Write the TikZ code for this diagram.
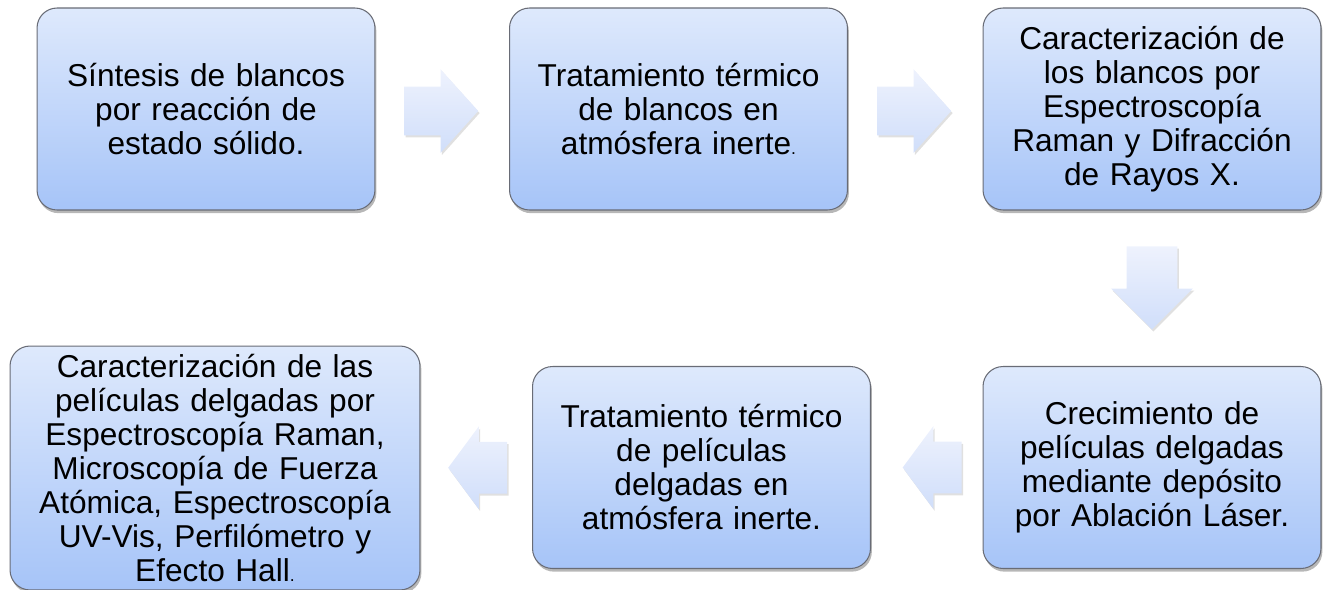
\documentclass[tikz,border=0pt]{standalone}
\usepackage{fontspec}
\setmainfont{Liberation Sans}
\usetikzlibrary{shapes.arrows,shadows,calc}

\definecolor{cajaarriba}{RGB}{222,233,252}
\definecolor{cajaabajo}{RGB}{166,196,248}
\definecolor{flechaarriba}{RGB}{238,242,253}
\definecolor{flechaabajo}{RGB}{208,222,250}
\definecolor{borde}{RGB}{105,108,118}

\tikzset{
  paso/.style={rectangle, rounded corners=0.4cm, draw=borde, line width=0.6pt,
    top color=cajaarriba, bottom color=cajaabajo,
    drop shadow={shadow xshift=0.8pt, shadow yshift=-1.8pt, opacity=0.4, fill=black!70},
    minimum width=6.76cm, minimum height=4.04cm, text width=6.6cm, align=center,
    inner sep=0pt, font=\fontsize{18}{19.35}\selectfont},
  flecha/.style={single arrow, inner xsep=0pt, draw=none,
    top color=flechaarriba, bottom color=flechaabajo,
    drop shadow={shadow xshift=0.8pt, shadow yshift=-1.2pt, opacity=0.12, fill=black}},
  flechader/.style={flecha, minimum height=1.48cm, inner ysep=0.48cm,
    single arrow head extend=0.35cm, single arrow tip angle=96},
  flechaizq/.style={flecha, shape border rotate=180, minimum height=1.18cm, inner ysep=0.51cm,
    single arrow head extend=0.31cm, single arrow tip angle=107},
  flechaaba/.style={flecha, shape border rotate=270, minimum height=1.66cm,
    inner xsep=0.5cm, inner ysep=0pt,
    single arrow head extend=0.31cm, single arrow tip angle=90}
}
\newcommand{\puntito}{{\fontsize{10}{10}\selectfont.}}

\begin{document}
\begin{tikzpicture}[x=0.02cm, y=-0.02cm]
    \useasboundingbox (0,0) rectangle (1323,589);

    % Fila de arriba
    \node[paso] (sintesis) at (206,109) {S\'intesis de blancos\\por reacci\'on de\\estado s\'olido.};
    \node[paso] (tratblancos) at (678.5,109) {Tratamiento t\'ermico\\de blancos en\\atm\'osfera inerte\puntito};
    \node[paso] (carblancos) at (1152,109) {Caracterizaci\'on de\\los blancos por\\Espectroscop\'ia\\Raman y Difracci\'on\\de Rayos X.};

    % Fila de abajo
    \node[paso] (crecimiento) at (1152,467.5) {Crecimiento de\\pel\'iculas delgadas\\mediante dep\'osito\\por Ablaci\'on L\'aser.};
    \node[paso] (tratpeliculas) at (701.5,467.5) {Tratamiento t\'ermico\\de pel\'iculas\\delgadas en\\atm\'osfera inerte.};
    \node[paso, minimum width=8.2cm, minimum height=4.88cm, text width=8cm] (carpeliculas) at (215,468)
      {Caracterizaci\'on de las\\pel\'iculas delgadas por\\Espectroscop\'ia Raman,\\Microscop\'ia de Fuerza\\At\'omica, Espectroscop\'ia\\UV-Vis, Perfil\'ometro y\\Efecto Hall\puntito};

    % Flechas entre pasos
    \node[flechader] (f1) at ($(sintesis.east)!0.5!(tratblancos.west)+(-12,2)$) {};
    \node[flechader] (f2) at ($(tratblancos.east)!0.5!(carblancos.west)+(-12,2)$) {};
    \node[flechaaba] (f3) at ($(carblancos.south)!0.5!(crecimiento.north)+(0,-13)$) {};
    \node[flechaizq] (f4) at ($(crecimiento.west)!0.5!(tratpeliculas.east)+(15,0)$) {};
    \node[flechaizq] (f5) at ($(tratpeliculas.west)!0.5!(carpeliculas.east)+(11,0)$) {};
\end{tikzpicture}
\end{document}
